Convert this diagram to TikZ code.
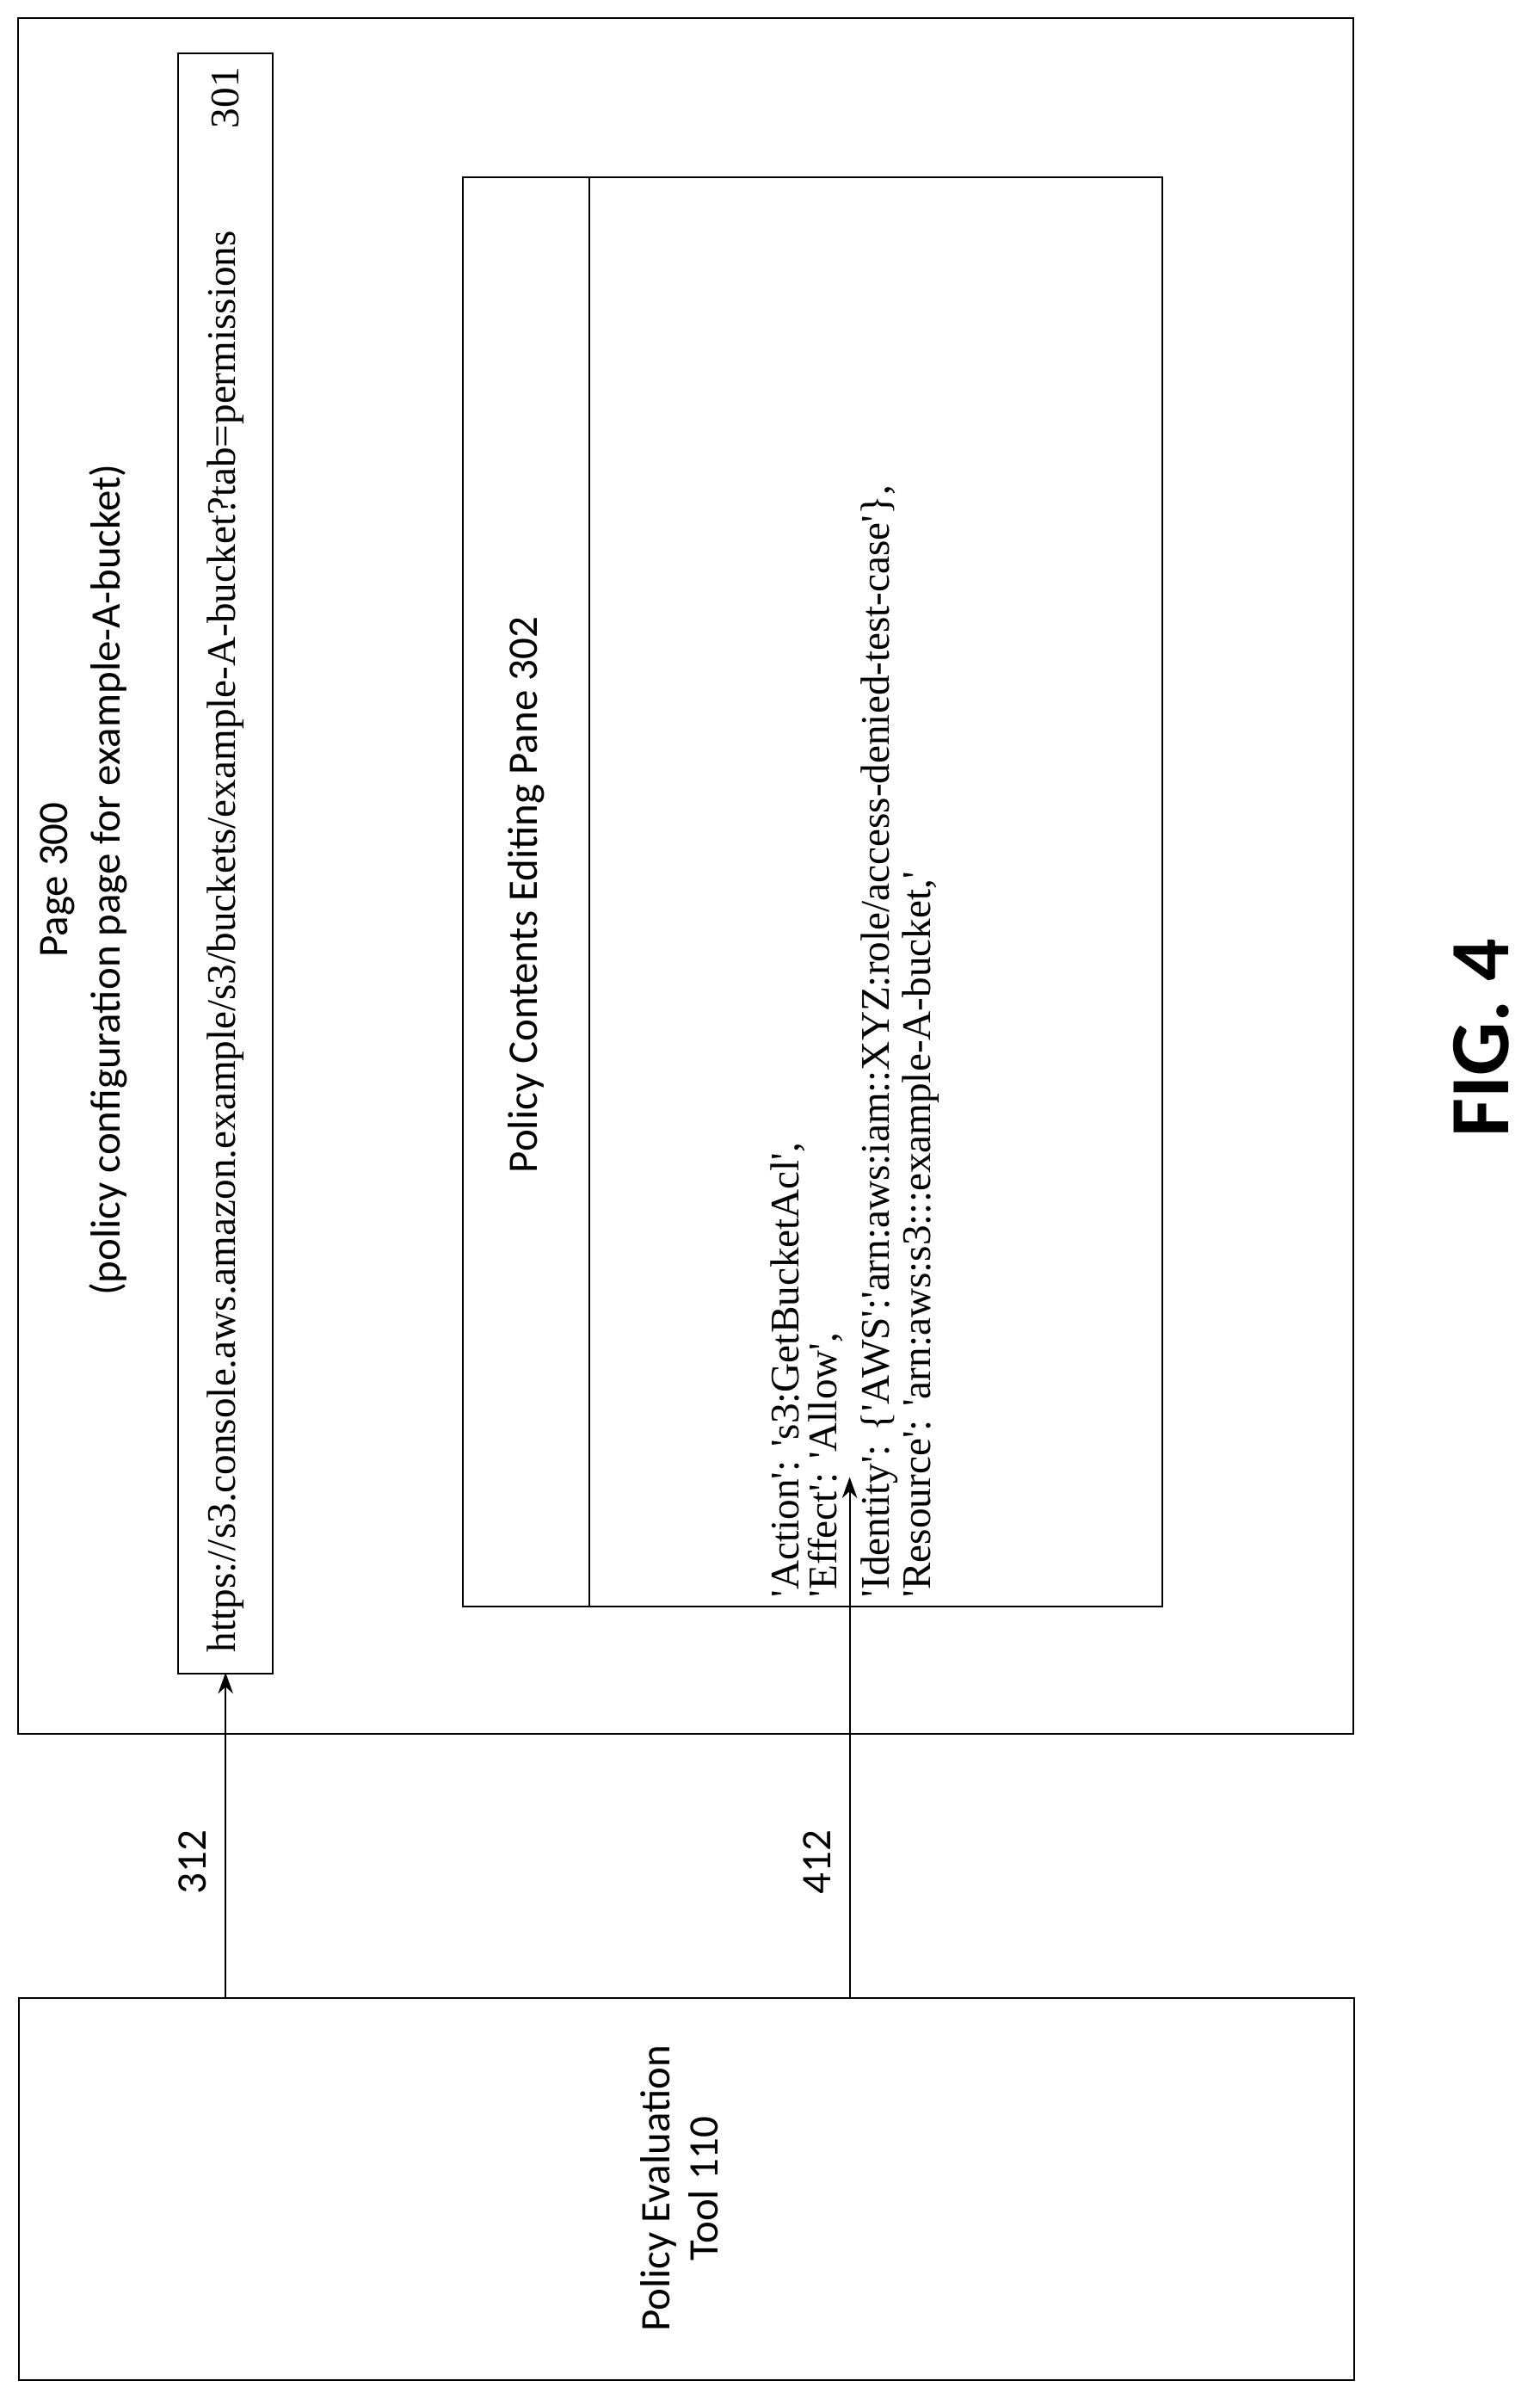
\documentclass[tikz,border=0pt]{standalone}
\usepackage{fontspec}
\setmainfont{Carlito}
\newfontfamily\tms{Liberation Serif}
\usetikzlibrary{arrows.meta}
\begin{document}
\begin{tikzpicture}[x=1pt,y=1pt,
  box/.style={draw,line width=1.2pt},
  arr/.style={line width=1.2pt,-{Stealth[length=14pt,width=10pt]}},
  lab/.style={rotate=90,font=\fontsize{28}{32}\selectfont},
  tlab/.style={rotate=90,font=\tms\fontsize{27}{29}\selectfont},
  cl/.style={tlab,anchor=west,inner sep=0pt}]
\useasboundingbox (0,0) rectangle (1024,-1591);
\draw[box] (12,-12) rectangle (900,-1153);
\node[box,minimum width=63pt,minimum height=1077pt,anchor=north west] (url) at (118,-35) {};
\draw[box] (308,-118) rectangle (773,-1068);
\draw[box] (392,-118) -- (392,-1068);
\node[box,minimum width=888pt,minimum height=254pt,anchor=north west] (tool) at (12,-1328) {};
\node[lab] (p1) at (38,-585) {Page 300};
\node[lab] (p2) at (72,-585) {(policy configuration page for example-A-bucket)};
\node[tlab,anchor=west] (u) at (150,-1102) {https://s3.console.aws.amazon.example/s3/buckets/example-A-bucket?tab=permissions};
\node[tlab] (n301) at (150,-65) {301};
\node[lab] (pane) at (350,-595) {Policy Contents Editing Pane 302};
\node[cl] (c1) at (524,-1062) {'Action': 's3:GetBucketAcl',};
\node[cl] (c2) at (549,-1062) {'Effect': 'Allow',};
\node[cl] (c3) at (585,-1062) {'Identity': \{'AWS':'arn:aws:iam::XYZ:role/access-denied-test-case'\},};
\node[cl] (c4) at (612,-1062) {'Resource': 'arn:aws:s3:::example-A-bucket,'};
\node[lab,align=center] (tl) at (452,-1455) {Policy Evaluation\\Tool 110};
\coordinate (a1) at (150,-1328);
\coordinate (a2) at (565,-1328);
\draw[arr] (a1) -- (150,-1112);
\draw[arr] (a2) -- (565,-982);
\node[lab] (l312) at (128,-1238) {312};
\node[lab] (l412) at (543,-1238) {412};
\node[rotate=90,font=\bfseries\fontsize{56}{60}\selectfont] (fig) at (985,-690) {FIG. 4};
\end{tikzpicture}
\end{document}
